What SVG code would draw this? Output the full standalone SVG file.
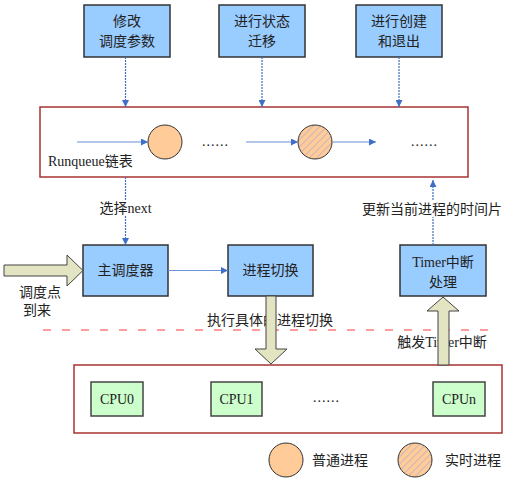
<svg xmlns="http://www.w3.org/2000/svg" width="513" height="481" viewBox="0 0 513 481">
<defs>
<style>
text{font-family:"Liberation Serif","Noto Sans CJK SC",serif;font-size:14px;fill:#222}
.c{text-anchor:middle}
.box{fill:#99ccff;stroke:#333;stroke-width:1.5}
.cpu{fill:#ccffcc;stroke:#444;stroke-width:1.5}
.frame{fill:#fff;stroke:#a83232;stroke-width:1.5}
.conn{stroke:#3f6fc6;stroke-width:1.2;fill:none;stroke-dasharray:2,1}
.flow{stroke:#6b8fd8;stroke-width:1.2;fill:none}
.blk{fill:#e2e4c2;stroke:#444;stroke-width:1}
.proc{fill:#ffcc99;stroke:#333;stroke-width:1}
</style>
<marker id="ah" viewBox="0 0 10 10" refX="10" refY="5" markerWidth="7" markerHeight="7" orient="auto" markerUnits="userSpaceOnUse">
<path d="M0,0 L10,5 L0,10 z" fill="#3f6fc6"/>
</marker>
<pattern id="hatch" width="5" height="5" patternUnits="userSpaceOnUse" patternTransform="rotate(45)">
<rect width="5" height="5" fill="#ffcc99"/>
<line x1="0" y1="0" x2="0" y2="5" stroke="#8fa0e0" stroke-width="1"/>
</pattern>
</defs>
<rect width="513" height="481" fill="#fff"/>

<g id="runqueue">
<rect class="frame" x="40" y="107" width="428" height="70"/>
<text x="48" y="166">Runqueue链表</text>
<circle class="proc" cx="165" cy="142" r="17"/>
<circle cx="315" cy="142" r="17" fill="url(#hatch)" stroke="#333" stroke-width="1"/>
<text x="202" y="146" letter-spacing="1">......</text>
<text x="411" y="146" letter-spacing="1">......</text>
</g>

<g id="cpus">
<rect class="frame" x="74" y="365" width="428" height="68"/>
<text x="313" y="402" letter-spacing="1">......</text>
</g>

<g id="n_modify">
<rect class="box" x="84" y="5" width="86" height="52"/>
<text class="c" x="127" y="26">修改</text>
<text class="c" x="127" y="46">调度参数</text>
</g>
<g id="n_state">
<rect class="box" x="219" y="5" width="86" height="52"/>
<text class="c" x="262" y="26">进行状态</text>
<text class="c" x="262" y="46">迁移</text>
</g>
<g id="n_create">
<rect class="box" x="356" y="5" width="86" height="52"/>
<text class="c" x="399" y="26">进行创建</text>
<text class="c" x="399" y="46">和退出</text>
</g>
<g id="n_sched">
<rect class="box" x="83" y="245" width="85" height="51"/>
<text class="c" x="125.5" y="275">主调度器</text>
</g>
<g id="n_switch">
<rect class="box" x="228" y="245" width="85" height="51"/>
<text class="c" x="270.5" y="275">进程切换</text>
</g>
<g id="n_timer">
<rect class="box" x="400" y="245" width="86" height="51"/>
<text class="c" x="443" y="267">Timer中断</text>
<text class="c" x="443" y="287">处理</text>
</g>
<g id="n_cpu0">
<rect class="cpu" x="91" y="382" width="52" height="34"/>
<text class="c" x="117" y="404">CPU0</text>
</g>
<g id="n_cpu1">
<rect class="cpu" x="211" y="382" width="51" height="34"/>
<text class="c" x="236.5" y="404">CPU1</text>
</g>
<g id="n_cpun">
<rect class="cpu" x="433" y="382" width="52" height="34"/>
<text class="c" x="459" y="404">CPUn</text>
</g>

<g id="legend">
<circle class="proc" cx="286" cy="460" r="17"/>
<text x="312" y="465">普通进程</text>
<circle cx="415" cy="460" r="17" fill="url(#hatch)" stroke="#333" stroke-width="1"/>
<text x="445" y="465">实时进程</text>
</g>

<line x1="43" y1="330" x2="490" y2="330" stroke="#ff3b3b" stroke-width="1.2" stroke-dasharray="8,11"/>

<g id="labels">
<text class="c" x="270" y="325">执行具体的进程切换</text>
<text class="c" x="442" y="347">触发Timer中断</text>
<text class="c" x="40" y="297">调度点</text>
<text class="c" x="37" y="315">到来</text>
</g>

<g id="connectors">
<line class="conn" x1="125.5" y1="57" x2="125.5" y2="107" marker-end="url(#ah)"/>
<line class="conn" x1="262" y1="57" x2="262" y2="107" marker-end="url(#ah)"/>
<line class="conn" x1="399" y1="57" x2="399" y2="107" marker-end="url(#ah)"/>
<line class="flow" x1="77" y1="142" x2="148" y2="142" marker-end="url(#ah)"/>
<line class="flow" x1="246" y1="142" x2="298" y2="142" marker-end="url(#ah)"/>
<line class="flow" x1="332" y1="142" x2="376" y2="142" marker-end="url(#ah)"/>
<line class="conn" x1="125.5" y1="177" x2="125.5" y2="245" marker-end="url(#ah)"/>
<rect x="97" y="200" width="57" height="16" fill="#fff"/>
<text class="c" x="125.5" y="213">选择next</text>
<line class="conn" x1="433" y1="245" x2="433" y2="180" marker-end="url(#ah)"/>
<rect x="361" y="201" width="143" height="16" fill="#fff"/>
<text class="c" x="432" y="214">更新当前进程的时间片</text>
<line class="flow" x1="168" y1="270.5" x2="228" y2="270.5" marker-end="url(#ah)"/>
<path class="blk" d="M4,265 L67,265 L67,255 L83,270.5 L67,286 L67,276 L4,276 Z"/>
<path class="blk" d="M266,296 L276,296 L276,349 L287,349 L271,364 L255,349 L266,349 Z"/>
<path class="blk" d="M438,365 L449,365 L449,311 L459,311 L443,297 L427,311 L438,311 Z"/>
</g>
</svg>
